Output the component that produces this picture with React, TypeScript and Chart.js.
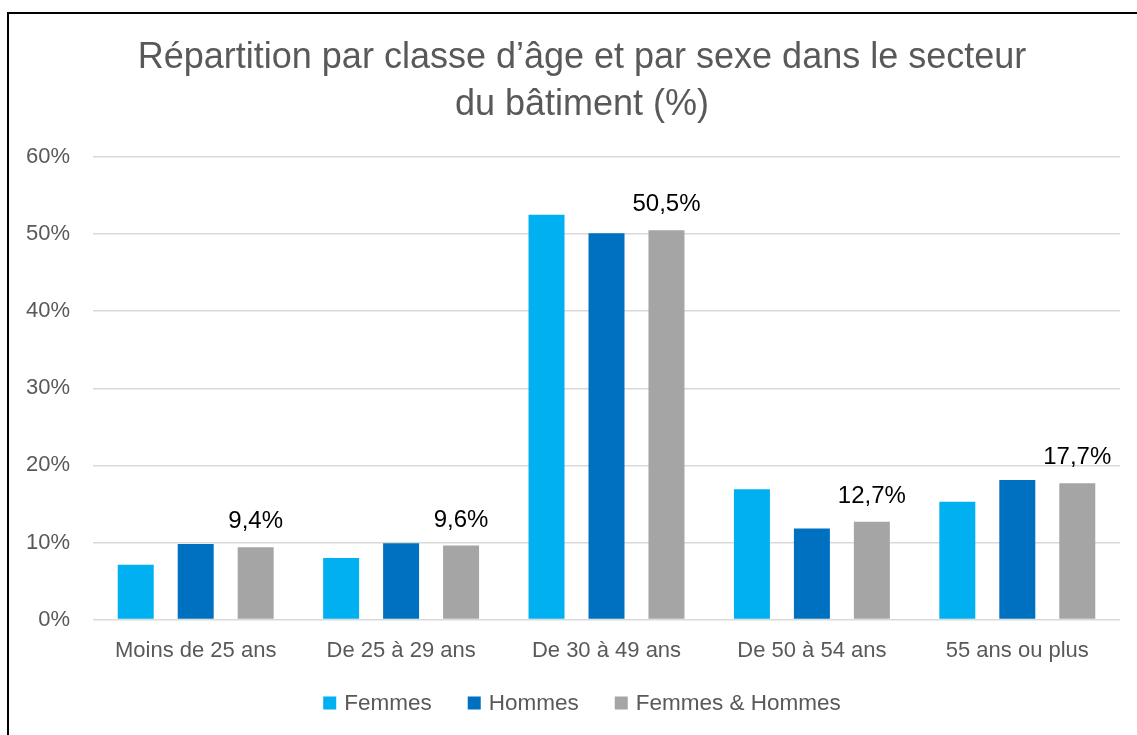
import React, { useEffect, useRef } from "react";
import { Chart, registerables } from "chart.js";

Chart.register(...registerables);

const categories = ["Moins de 25 ans", "De 25 à 29 ans", "De 30 à 49 ans", "De 50 à 54 ans", "55 ans ou plus"];
const femmes = [7.1, 8.0, 52.5, 16.9, 15.3];
const hommes = [9.8, 9.9, 50.1, 11.8, 18.1];
const ensemble = [9.4, 9.6, 50.5, 12.7, 17.7];
const seriesNames = ["Femmes", "Hommes", "Femmes & Hommes"];
const seriesColors = ["#00B0F0", "#0070C0", "#A5A5A5"];
const titleLines = ["Répartition par classe d’âge et par sexe dans le secteur", "du bâtiment (%)"];

const FONT = "'Liberation Sans', Arial, sans-serif";
const W = 1146;
const H = 721;
const CENTER_X = 573;

const titlePlugin = {
  id: "customTitle",
  afterDraw(chart: any) {
    const ctx = chart.ctx;
    ctx.save();
    ctx.font = `36px ${FONT}`;
    ctx.fillStyle = "#595959";
    ctx.textAlign = "center";
    ctx.textBaseline = "middle";
    titleLines.forEach((line, i) => {
      ctx.fillText(line, CENTER_X, 44 + i * 47);
    });
    ctx.restore();
  },
};

const labelPlugin = {
  id: "lastSeriesLabels",
  afterDatasetsDraw(chart: any) {
    const ctx = chart.ctx;
    const meta = chart.getDatasetMeta(2);
    ctx.save();
    ctx.font = `24px ${FONT}`;
    ctx.fillStyle = "#000000";
    ctx.textAlign = "center";
    ctx.textBaseline = "alphabetic";
    meta.data.forEach((bar: any, i: number) => {
      const v = ensemble[i];
      const txt = v.toFixed(1).replace(".", ",") + "%";
      ctx.fillText(txt, bar.x, bar.y - 19);
    });
    ctx.restore();
  },
};

const legendPlugin = {
  id: "bottomLegend",
  afterDraw(chart: any) {
    const ctx = chart.ctx;
    const box = 13;
    const gap = 8;
    const itemGap = 36;
    ctx.save();
    ctx.font = `22.5px ${FONT}`;
    const widths = seriesNames.map((n) => box + gap + ctx.measureText(n).width);
    const total = widths.reduce((a, b) => a + b, 0) + itemGap * (widths.length - 1);
    const cy = 689;
    let x = CENTER_X - total / 2;
    ctx.textBaseline = "middle";
    ctx.textAlign = "left";
    seriesNames.forEach((n, i) => {
      ctx.fillStyle = seriesColors[i];
      ctx.fillRect(x, cy - box / 2, box, box);
      ctx.fillStyle = "#595959";
      ctx.fillText(n, x + box + gap, cy + 1);
      x += widths[i] + itemGap;
    });
    ctx.restore();
  },
};

export default function App() {
  const ref = useRef<HTMLCanvasElement | null>(null);
  useEffect(() => {
    if (!ref.current) return;
    const chart = new Chart(ref.current, {
      type: "bar",
      data: {
        labels: categories,
        datasets: [femmes, hommes, ensemble].map((d, i) => ({
          label: seriesNames[i],
          data: d,
          backgroundColor: seriesColors[i],
          borderWidth: 0,
          categoryPercentage: 0.876,
          barPercentage: 0.6,
        })),
      },
      options: {
        animation: false,
        responsive: false,
        devicePixelRatio: 1,
        layout: { padding: { left: 17, right: 35, top: 143, bottom: 53 } },
        plugins: {
          title: { display: false },
          legend: { display: false },
          tooltip: { enabled: false },
        },
        scales: {
          x: {
            grid: { display: false, drawTicks: false },
            border: { display: false },
            ticks: { color: "#595959", font: { family: FONT, size: 22 }, padding: 18, maxRotation: 0 },
          },
          y: {
            min: 0,
            max: 60,
            grid: { color: "#D9D9D9", lineWidth: 1.5, drawTicks: false },
            border: { display: false },
            afterFit: (scale: any) => {
              scale.width = 67;
            },
            ticks: {
              stepSize: 10,
              color: "#595959",
              font: { family: FONT, size: 22 },
              padding: 23,
              callback: (v: any) => v + "%",
            },
          },
        },
      },
      plugins: [labelPlugin, legendPlugin, titlePlugin],
    });
    return () => chart.destroy();
  }, []);

  return (
    <div style={{ position: "fixed", left: 0, top: 0, width: 1137, height: 735, overflow: "hidden", background: "#fff" }}>
      <div style={{ position: "absolute", left: 7, top: 12, width: W, height: H + 20, border: "2px solid #000", background: "#fff" }}>
        <canvas ref={ref} width={W} height={H} style={{ display: "block", width: W, height: H }} />
      </div>
    </div>
  );
}
